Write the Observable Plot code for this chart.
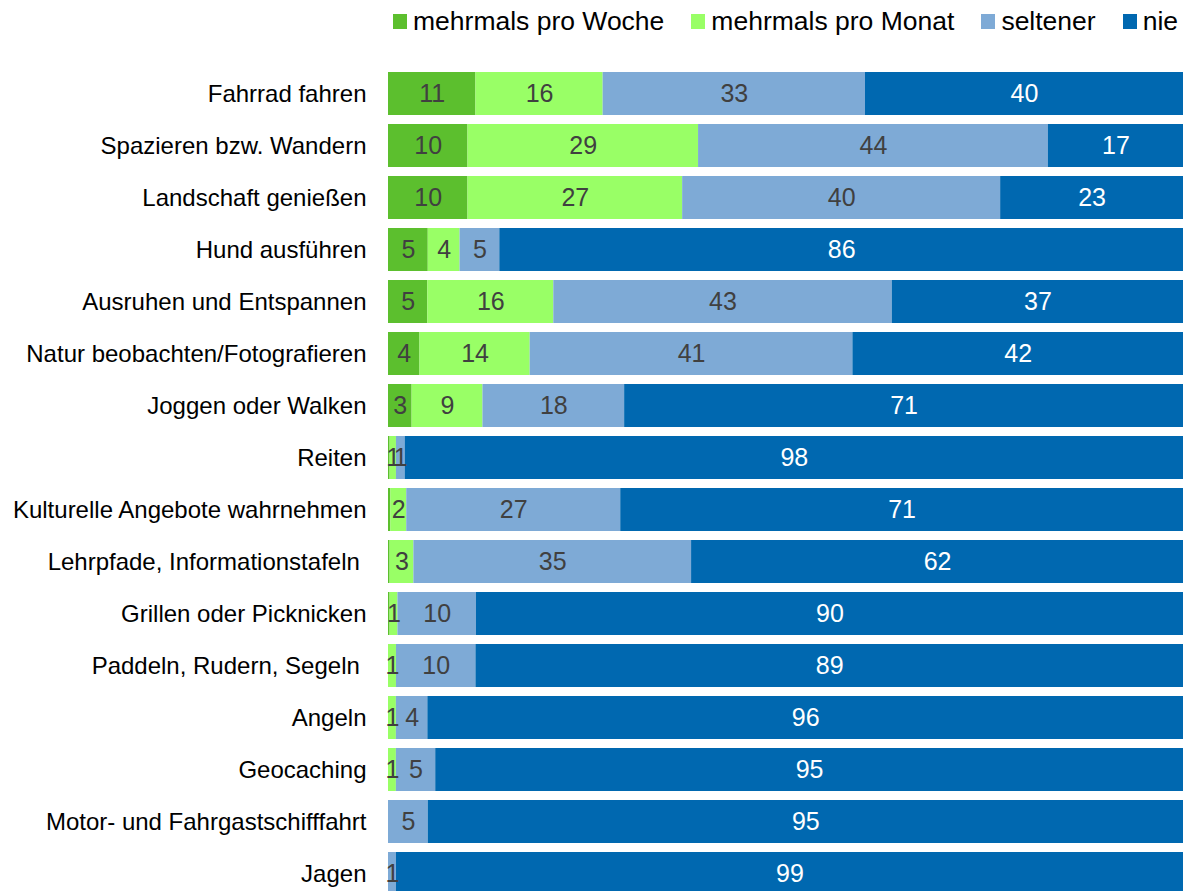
<!DOCTYPE html>
<html><head><meta charset="utf-8">
<script src="https://cdn.jsdelivr.net/npm/d3@7"></script>
<script src="https://cdn.jsdelivr.net/npm/@observablehq/plot@0.6"></script>
<style>
body{margin:0;background:#fff;font-family:"Liberation Sans",Arial,sans-serif;overflow:hidden}
#legend{height:44px;padding-top:6px;display:flex;align-items:center;padding-left:393px;font-size:26.5px;line-height:30px;color:#000;white-space:nowrap;box-sizing:content-box}
#legend{height:30px;padding-bottom:14px}
.item{display:flex;align-items:center;margin-right:27px}
.sw{width:14px;height:15px;margin-right:6px;flex:none}
</style></head>
<body>
<div id="legend"></div>
<div id="chart"></div>
<script>
const categories = [
  "Fahrrad fahren","Spazieren bzw. Wandern","Landschaft genießen","Hund ausführen",
  "Ausruhen und Entspannen","Natur beobachten/Fotografieren","Joggen oder Walken","Reiten",
  "Kulturelle Angebote wahrnehmen","Lehrpfade, Informationstafeln\u00a0","Grillen oder Picknicken",
  "Paddeln, Rudern, Segeln\u00a0","Angeln","Geocaching","Motor- und Fahrgastschifffahrt","Jagen"
];
const series = ["mehrmals pro Woche","mehrmals pro Monat","seltener","nie"];
const colors = ["#5cbf2e","#99ff66","#7eaad6","#0068b0"];
const woche    = [11,10,10,5,5,4,3,0.2,0.3,0.2,0.2,0,0,0,0,0];
const monat    = [16,29,27,4,16,14,9,0.8,2,3,1,1,1,1,0,0];
const seltener = [33,44,40,5,43,41,18,1.1,27,35,10,10,4,5,5,1];
const nie      = [40,17,23,86,37,42,71,98,71,62,90,89,96,95,95,99];

const valuesBySeries = [woche, monat, seltener, nie];
const rows = [];
categories.forEach((c, i) => {
  series.forEach((s, j) => rows.push({cat: c, series: s, value: valuesBySeries[j][i]}));
});

// legend
const legend = document.getElementById("legend");
series.forEach((s, j) => {
  const it = document.createElement("div"); it.className = "item";
  const sw = document.createElement("div"); sw.className = "sw"; sw.style.background = colors[j];
  const tx = document.createElement("span"); tx.textContent = s;
  it.appendChild(sw); it.appendChild(tx); legend.appendChild(it);
});

const lab = d => d.value >= 0.5 ? String(Math.round(d.value)) : null;
const stackOpts = extra => Plot.stackX({offset: "normalize", x: "value", y: "cat", z: "series", ...extra});

const chart = Plot.plot({
  width: 1183,
  height: 854,
  marginLeft: 388,
  marginRight: 0,
  marginTop: 12,
  marginBottom: 0,
  style: {fontFamily: '"Liberation Sans", Arial, sans-serif', background: "#fff", color: "#000"},
  x: {axis: null, domain: [0, 1]},
  y: {domain: categories, padding: 0.174, label: null, axis: null},
  color: {domain: series, range: colors},
  marks: [
    Plot.barX(rows, stackOpts({fill: "series"})),
    Plot.text(rows, stackOpts({text: d => d.series !== "nie" ? lab(d) : null, fill: "#404040", fontSize: 25})),
    Plot.text(rows, stackOpts({text: d => d.series === "nie" ? lab(d) : null, fill: "white", fontSize: 25})),
    Plot.axisY({tickSize: 0, tickPadding: 22, fontSize: 24, fill: "#000", label: null})
  ]
});
document.getElementById("chart").appendChild(chart);
</script>
</body></html>
